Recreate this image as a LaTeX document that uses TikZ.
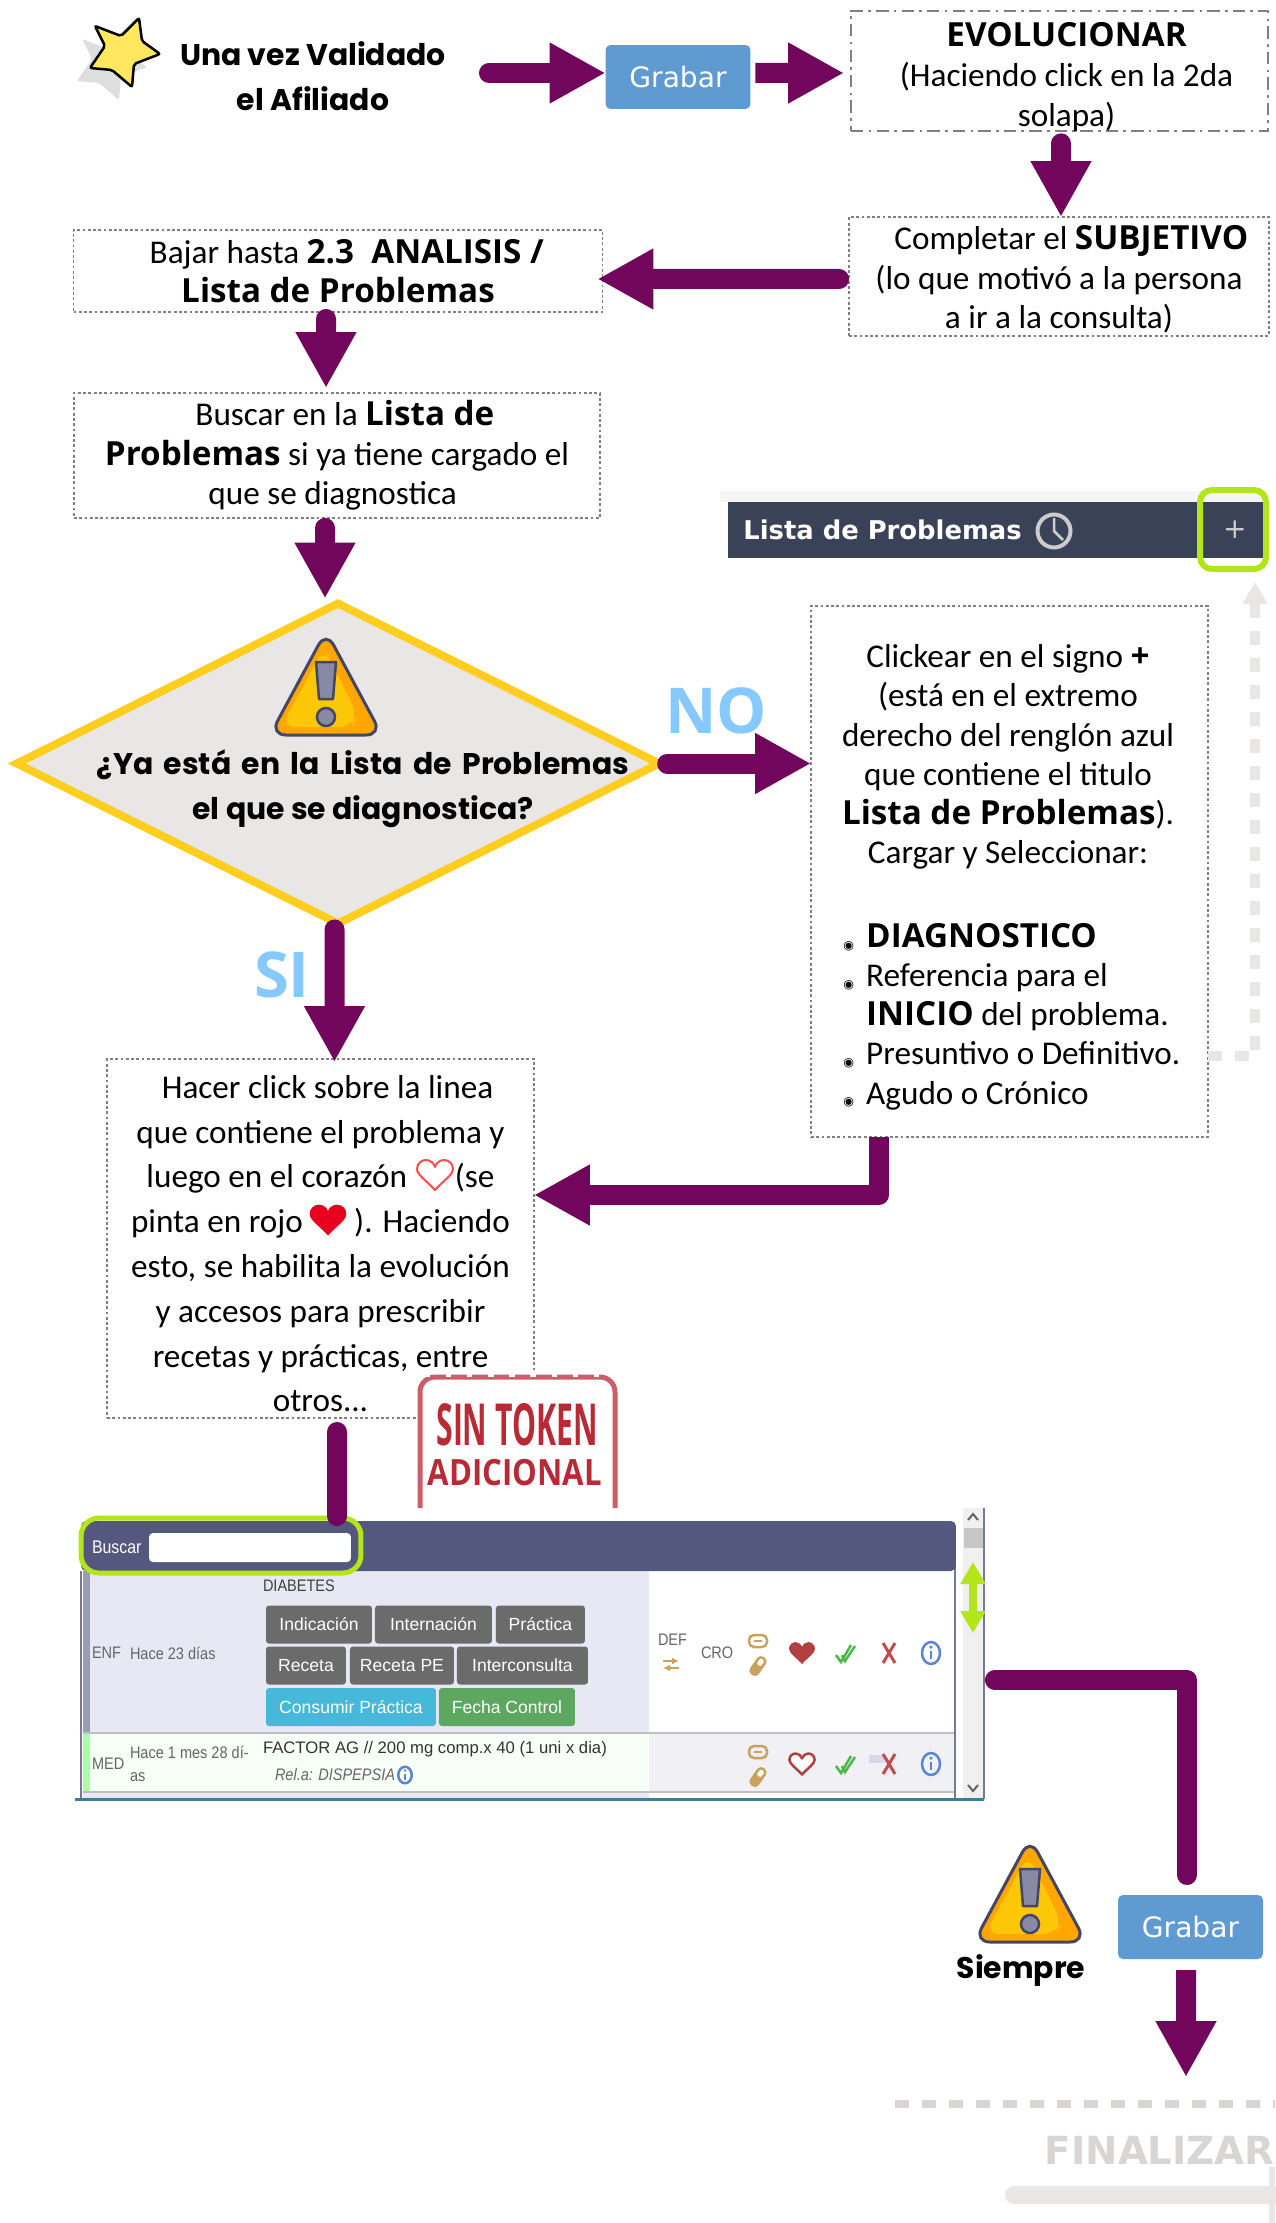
\documentclass[tikz,border=0pt]{standalone}
\usepackage{fontspec}
\usetikzlibrary{shapes.geometric,arrows.meta,positioning}
\setmainfont{Carlito}
\newfontfamily\abierta{Open Sans}
\newfontfamily\comica{Poppins}
\newfontfamily\dejavu{DejaVu Sans}
\newfontfamily\liberation{Liberation Sans}
\newfontfamily\liberacorta[FakeStretch=0.87]{Liberation Sans}
\newcommand{\fuerte}[1]{{\abierta\bfseries #1}}
\newcommand{\ojo}{\makebox[13pt][l]{\raisebox{-1pt}{\dejavu\fontsize{7}{7}\selectfont ◉}}}
\newcommand{\sinojo}{\makebox[13pt]{}}
\definecolor{violeta}{HTML}{72065C}
\definecolor{botonazul}{HTML}{5F9BD1}
\definecolor{amarillo}{HTML}{FFCE1F}
\definecolor{celeste}{HTML}{85C9FF}
\definecolor{verdelima}{HTML}{B2E51A}
\definecolor{grisclaro}{HTML}{E9E6E6}
\definecolor{gristexto}{HTML}{D9D5D5}
\definecolor{sello}{HTML}{B82A35}
\definecolor{cabeza}{HTML}{55587E}
\definecolor{dorado}{HTML}{C9A35E}
\definecolor{azulinfo}{HTML}{5A85D0}
\definecolor{rojo}{HTML}{E8001E}
\definecolor{pizarra}{HTML}{3A4258}
\definecolor{lavanda}{HTML}{E8E8F4}
\definecolor{estrella}{HTML}{FFE75F}
\definecolor{consumo}{HTML}{46B8DA}
\definecolor{fechaverde}{HTML}{5CA860}
\tikzset{
  caja/.style={rectangle, draw=gray, dash pattern=on 1.6pt off 1.4pt, line width=.75pt, inner sep=0pt, outer sep=0pt, align=center,
    font=\fontsize{18.9}{22.6}\selectfont},
  comic/.style={inner sep=0pt, outer sep=0pt, align=center, font=\comica\bfseries\fontsize{17}{25.5}\selectfont},
  flecha/.style={draw=violeta, line width=.4cm, line cap=round, line join=round,
    -{Triangle[length=1.12cm,width=1.14cm]}},
  linea/.style={draw=violeta, line width=.4cm, line cap=round, line join=round},
  grabar/.style={rectangle, fill=botonazul, rounded corners=.1cm, text=white, minimum width=2.9cm, minimum height=1.28cm,
    inner sep=0pt, outer sep=0pt, font=\dejavu\fontsize{16}{18}\selectfont},
  boton/.style={rectangle, fill=black!58, rounded corners=.06cm, text=white, minimum height=.76cm,
    inner sep=0pt, outer sep=0pt, font=\liberation\fontsize{10}{12}\selectfont},
  dato/.style={inner sep=0pt, outer sep=0pt, text=black!60, font=\liberacorta\fontsize{9.5}{12}\selectfont},
  letrero/.style={inner sep=0pt, outer sep=0pt, text=celeste, font=\abierta\bfseries\fontsize{36}{36}\selectfont},
  aviso/.pic={
    \draw[fill=orange!70!yellow, draw=cabeza!80!black, line width=.06cm, rounded corners=.32cm] (-56,47) -- (0,-57) -- (56,47) -- cycle;
    \fill[fill=yellow!60!orange, rounded corners=.28cm] (-45,39) -- (-2,-40) -- (32,28) -- (26,39) -- cycle;
    \draw[fill=cabeza!70!white, draw=cabeza!80!black, line width=.05cm, line join=round] (-10,-26) -- (10,-26) -- (7,11) -- (-7,11) -- cycle;
    \draw[fill=cabeza!70!white, draw=cabeza!80!black, line width=.05cm] (0,29) circle [radius=.18cm];
  },
  corazon/.pic={
    \path[pic actions, line join=round] (0,15) .. controls (-8,6) and (-18,0) .. (-18,-6) .. controls (-18,-12) and (-13,-15) .. (-9,-15)
      .. controls (-5,-15) and (-1,-12) .. (0,-8) .. controls (1,-12) and (5,-15) .. (9,-15)
      .. controls (13,-15) and (18,-12) .. (18,-6) .. controls (18,0) and (8,6) .. (0,15) -- cycle;
  },
  eslabon/.pic={
    \draw[dorado, line width=.05cm, rounded corners=.1cm] (-9,-6) rectangle (9,6);
    \draw[dorado, line width=.05cm] (-4,0) -- (4,0);
  },
  pastilla/.pic={
    \draw[dorado, fill=dorado, line width=.03cm, rounded corners=.08cm, rotate=55] (-10,-4.5) rectangle (10,4.5);
    \fill[white, rounded corners=.04cm, rotate=55] (1,-2.5) rectangle (8,2.5);
  },
  doblecheck/.pic={
    \draw[green!60!black!70, line width=.05cm] (-9,2) -- (-4,9) -- (6,-8);
    \draw[green!60!black!70, line width=.05cm] (-3,2) -- (0,8) -- (10,-7);
  },
  equis/.pic={
    \draw[red!65!black!70, line width=.06cm] (-6,-10) -- (6,10) (6,-10) -- (-6,10);
  },
  datoinfo/.pic={
    \draw[azulinfo, line width=.05cm] (0,0) circle [x radius=.18cm, y radius=.22cm];
    \draw[azulinfo, line width=.05cm] (0,-2) -- (0,6);
    \fill[azulinfo] (0,-6) circle [radius=.035cm];
  }
}
\begin{document}
\begin{tikzpicture}[x=.02cm, y=-.02cm]
\useasboundingbox (0,0) rectangle (1275,2223);
% estrella
\fill[black!13, rounded corners=.04cm, shift={(-13,13)}] (139,18) -- (142,41) -- (160,54) -- (134,64) -- (132,87) -- (112,70) -- (90,68) -- (105,46) -- (95,26) -- (121,36) -- cycle;
\draw[fill=estrella, line width=.05cm, rounded corners=.04cm] (139,18) -- (142,41) -- (160,54) -- (134,64) -- (132,87) -- (112,70) -- (90,68) -- (105,46) -- (95,26) -- (121,36) -- cycle;
\node[comic, minimum width=7.04cm] (una) at (313,76) {Una vez Validado\\el Afiliado};
\node[grabar] (grabarA) at (678,77) {Grabar};
\node[caja, dash pattern=on 7pt off 3pt on 1.5pt off 3pt, line width=1.1pt, minimum width=8.34cm, minimum height=2.4cm] (evol) at (1059.5,71) {\rule{0pt}{20.5pt}\hspace*{8pt}\fuerte{EVOLUCIONAR}\\\hspace*{8pt}(Haciendo click en la 2da\\\hspace*{8pt}solapa)};
\node[caja, minimum width=8.4cm, minimum height=2.38cm] (subj) at (1059,276.5) {\rule{0pt}{17pt}\hspace*{14pt}Completar el \fuerte{SUBJETIVO}\\(lo que motivó a la persona\\a ir a la consulta)};
\node[caja, minimum width=10.58cm, minimum height=1.64cm] (bajar) at (338,271) {\hspace*{10pt}Bajar hasta \fuerte{2.3\ \ ANALISIS /}\\\fuerte{Lista de Problemas}};
\node[caja, minimum width=10.52cm, minimum height=2.5cm] (buscar) at (337,455.5) {\hspace*{9pt}Buscar en la \fuerte{Lista de}\\\fuerte{Problemas} si ya tiene cargado el\hspace*{5pt}\\que se diagnostica\hspace*{5pt}};
\node[diamond, draw=amarillo, fill=grisclaro, line width=.16cm, inner sep=0pt, outer sep=0pt, minimum width=12.85cm, minimum height=6.4cm] (rombo) at (338,763.5) {};
\pic at (326,688) {aviso};
\node[comic] (pregunta) at (363,788.5) {{\spaceskip=6pt ¿Ya está en la Lista de Problemas}\\el que se diagnostica?};
\node[letrero] (no) at (716,711) {NO};
\node[letrero] (si) at (282,975) {SI};
\node[caja, minimum width=7.94cm, minimum height=10.62cm] (clickear) at (1009.5,871.5) {};
\node[inner sep=0pt, align=center, font=\fontsize{18.9}{22.3}\selectfont] (clickearA) at (1008,757) {Clickear en el signo \fuerte{+}\\(está en el extremo\\derecho del renglón azul\\que contiene el titulo\\\fuerte{Lista de Problemas}).\\Cargar y Seleccionar:};
\node[inner sep=0pt, align=left, font=\fontsize{18.9}{22.3}\selectfont, anchor=west] (clickearB) at (843,1016.5) {\ojo\fuerte{DIAGNOSTICO}\\\ojo Referencia para el\\\sinojo\fuerte{INICIO} del problema.\\\ojo Presuntivo o Definitivo.\\\ojo Agudo o Crónico};
% barra lista de problemas
\fill[black!4] (720,491) rectangle (1268,502);
\node[rectangle, fill=pizarra, minimum width=10.82cm, minimum height=1.12cm, inner sep=0pt, outer sep=0pt] (barra) at (998,530) {};
\node[inner sep=0pt, anchor=west, text=white, font=\dejavu\bfseries\fontsize{14.7}{16}\selectfont] (listabarra) at (743,530) {Lista de Problemas};
\draw[black!20, line width=.08cm] (1054,531) circle [radius=.33cm];
\draw[black!20, line width=.05cm] (1054,518) -- (1054,531) -- (1063,540);
\node[inner sep=0pt, text=black!20, font=\dejavu\fontsize{16}{16}\selectfont] (mas) at (1235,530) {+};
\node[rectangle, draw=verdelima, line width=.12cm, rounded corners=.24cm, minimum width=1.32cm, minimum height=1.58cm, inner sep=0pt, outer sep=0pt] (verdeA) at (1233,529.5) {};
% flecha gris
\coordinate (grisfin) at (1255,582);
\draw[grisclaro, line width=.2cm, dash pattern=on 14*.02cm off 13*.02cm, -{Triangle[length=.44cm,width=.48cm]}] ([yshift=-3.7cm]clickear.east) -| (grisfin);
% texto del corazon
\node[caja, minimum width=8.54cm, minimum height=7.18cm, font=\fontsize{18.9}{25.5}\selectfont] (hacer) at (320.5,1238.5) {\rule{0pt}{19pt}\hspace*{8pt}Hacer click sobre la linea\\que contiene el problema y\\luego en el corazón \hspace*{23pt}(se\\pinta en rojo \hspace*{25pt}). Haciendo\\esto, se habilita la evolución\\y accesos para prescribir\\recetas y prácticas, entre\\otros...};
\pic[draw=red!70, fill=white, line width=.04cm] at (435,1175) {corazon};
\pic[draw=rojo, fill=rojo] at (328,1220) {corazon};
% sello
\fill[white] (417,1370) rectangle (619,1508);
\draw[sello!75, line width=.1cm, rounded corners=.3cm] (420,1508) -- (420,1377) -- (615,1377) -- (615,1508);
\draw[white, line width=.06cm, dash pattern=on 3pt off 9pt] (425,1375) -- (610,1375);
\node[inner sep=0pt, text=sello, font=\abierta\bfseries\fontsize{33}{33}\selectfont] (sintoken) at (517,1425) {\scalebox{.52}[1]{SIN TOKEN}};
\node[inner sep=0pt, text=sello, font=\abierta\bfseries\fontsize{20.6}{21}\selectfont] (adicional) at (515,1473) {\scalebox{.86}[1]{ADICIONAL}};
% pantalla
\node[rectangle, fill=white, minimum width=18.06cm, minimum height=5.56cm, inner sep=0pt, outer sep=0pt] (panel) at (532.5,1660) {};
\fill[lavanda] (83,1571) rectangle (649,1733);
\fill[cabeza!60!white] (83,1571) rectangle (90,1733);
\fill[green!3!white] (83,1733) rectangle (649,1792);
\fill[green!35!white] (83,1733) rectangle (90,1792);
\fill[blue!20!gray!10!white] (649,1733) rectangle (955,1792);
\fill[lavanda] (83,1792) rectangle (649,1798);
\draw[black!25, line width=.03cm] (83,1733) -- (955,1733) (83,1792) -- (955,1792);
\fill[black!6] (963,1508) rectangle (983,1798);
\fill[black!22] (964,1528) rectangle (983,1548);
\draw[black!60, line width=.04cm] (968,1520) -- (973,1514) -- (978,1520) (968,1785) -- (973,1791) -- (978,1785);
\draw[cabeza!80, line width=.05cm] (81,1571) -- (81,1799) (955,1540) -- (955,1799) (984,1508) -- (984,1799);
\draw[cabeza!80!cyan, line width=.06cm] (75,1799) -- (984,1799);
\node[rectangle, fill=cabeza, rounded corners=.1cm, minimum width=17.5cm, minimum height=1cm, inner sep=0pt, outer sep=0pt] (cabecera) at (518.5,1546) {};
\node[rectangle, fill=white, rounded corners=.08cm, minimum width=4.04cm, minimum height=.58cm, inner sep=0pt] (campo) at (250,1547.5) {};
\node[dato, text=white, anchor=west, font=\liberacorta\fontsize{10.4}{12}\selectfont] (buscarlbl) at (92,1547) {Buscar};
\node[rectangle, draw=verdelima, line width=.1cm, rounded corners=.36cm, minimum width=5.6cm, minimum height=1.1cm, inner sep=0pt, outer sep=0pt] (verdeB) at (221,1545.5) {};
\draw[verdelima, line width=.16cm, {Triangle[length=.44cm,width=.48cm]}-{Triangle[length=.44cm,width=.48cm]}] (973,1562) -- (973,1633);
\node[dato, text=black!75, anchor=west] (diabetes) at (263,1586) {DIABETES};
\node[boton, minimum width=2.12cm] (indicacion) at (319,1624.5) {Indicación};
\node[boton, minimum width=2.34cm, right=.06cm of indicacion] (internacion) {Internación};
\node[boton, minimum width=1.78cm, right=.08cm of internacion] (practica) {Práctica};
\node[boton, minimum width=1.6cm] (receta) at (306,1665.5) {Receta};
\node[boton, minimum width=2.08cm, right=.08cm of receta] (recetape) {Receta PE};
\node[boton, minimum width=2.62cm, right=.06cm of recetape] (interconsulta) {Interconsulta};
\node[boton, minimum width=3.4cm, fill=consumo] (consumir) at (351,1707) {Consumir Práctica};
\node[boton, minimum width=2.72cm, fill=fechaverde, right=.06cm of consumir] (fecha) {Fecha Control};
\node[dato, anchor=west] (enf) at (92,1653) {ENF};
\node[dato, anchor=west] (hace) at (130,1653) {Hace 23 días};
\node[dato, anchor=west] (def) at (658,1640) {DEF};
\draw[dorado, line width=.03cm, -{Latex[length=.14cm,width=.14cm]}] (663,1661) -- (679,1661);
\draw[dorado, line width=.03cm, -{Latex[length=.14cm,width=.14cm]}] (679,1668) -- (663,1668);
\node[dato, anchor=west] (cro) at (701,1653) {CRO};
\pic at (758,1641) {eslabon};
\pic at (758,1666) {pastilla};
\pic[scale=.7, draw=red!60!black!75, fill=red!60!black!75] at (802,1653) {corazon};
\pic at (845,1653) {doblecheck};
\pic at (889,1653) {equis};
\pic at (931,1653) {datoinfo};
\node[dato, anchor=west] (med) at (92,1764) {MED};
\node[dato, anchor=west, align=left, font=\liberacorta\fontsize{9.5}{13}\selectfont] (mes) at (130,1764) {Hace 1 mes 28 dí-\\as};
\node[dato, text=black!80, anchor=west, font=\liberation\fontsize{9.5}{12}\selectfont] (factor) at (263,1749) {FACTOR AG // 200 mg comp.x 40 (1 uni x dia)};
\node[dato, anchor=west, font=\liberacorta\itshape\fontsize{9.5}{12}\selectfont] (rel) at (275,1775) {Rel.a: DISPEPSIA};
\pic[scale=.75] at (405,1775) {datoinfo};
\pic at (758,1752) {eslabon};
\pic at (758,1777) {pastilla};
\pic[scale=.7, draw=red!60!black!75, fill=white, line width=.05cm] at (802,1764) {corazon};
\fill[blue!20!gray!25!white] (869,1755) rectangle (885,1763);
\pic at (845,1764) {doblecheck};
\pic at (889,1764) {equis};
\pic at (931,1764) {datoinfo};
% abajo a la derecha
\node[grabar] (grabarB) at (1190.5,1927) {Grabar};
\pic at (1030,1895) {aviso};
\node[comic] (siempre) at (1021,1970) {Siempre};
\draw[gristexto, line width=.16cm, dash pattern=on 14*.02cm off 13*.02cm] (895,2104) -- (1275,2104);
\node[inner sep=0pt, anchor=east, text=gristexto, font=\dejavu\bfseries\fontsize{22}{22}\selectfont] (finalizar) at (1275,2150) {FINALIZAR};
\coordinate (finA) at (1186,2077);
\draw[grisclaro, line width=.36cm, line cap=round] (1014,2195) -- (1275,2195);
\fill[grisclaro] (1269,2167) rectangle (1275,2223);
% conectores
\draw[flecha] ([yshift=.06cm]una.east) -- ([yshift=.08cm]grabarA.west);
\draw[flecha, line cap=butt] ([xshift=.1cm,yshift=.08cm]grabarA.east) -- ([xshift=-.14cm,yshift=-.04cm]evol.west);
\draw[flecha] ([xshift=.03cm,yshift=-.24cm]evol.south) -- ([xshift=.04cm]subj.north);
\draw[flecha] ([xshift=-.2cm,yshift=-.05cm]subj.west) -- ([xshift=-.1cm,yshift=-.16cm]bajar.east);
\draw[flecha] ([xshift=-.24cm,yshift=-.14cm]bajar.south) -- ([xshift=-.22cm,yshift=.1cm]buscar.north);
\draw[flecha] ([xshift=-.24cm,yshift=-.2cm]buscar.south) -- ([xshift=-.26cm,yshift=.1cm]rombo.north);
\draw[flecha] ([xshift=.16cm]rombo.east) -- (rombo.east -| clickear.west);
\draw[flecha] ([xshift=-.07cm,yshift=-.12cm]rombo.south) -- ([xshift=.28cm,yshift=-.06cm]hacer.north);
\draw[flecha, line cap=butt] ([xshift=-2.61cm]clickear.south) |- ([yshift=.87cm]hacer.east);
\draw[linea] ([xshift=.33cm,yshift=-.28cm]hacer.south) -- ([xshift=-3.63cm,yshift=.1cm]cabecera.north);
\draw[linea] ([xshift=.22cm,yshift=-.4cm]panel.east) -| ([xshift=-.07cm,yshift=.4cm]grabarB.north);
\draw[flecha, line cap=butt] ([xshift=-.09cm,yshift=-.22cm]grabarB.south) -- (finA);
\end{tikzpicture}
\end{document}
